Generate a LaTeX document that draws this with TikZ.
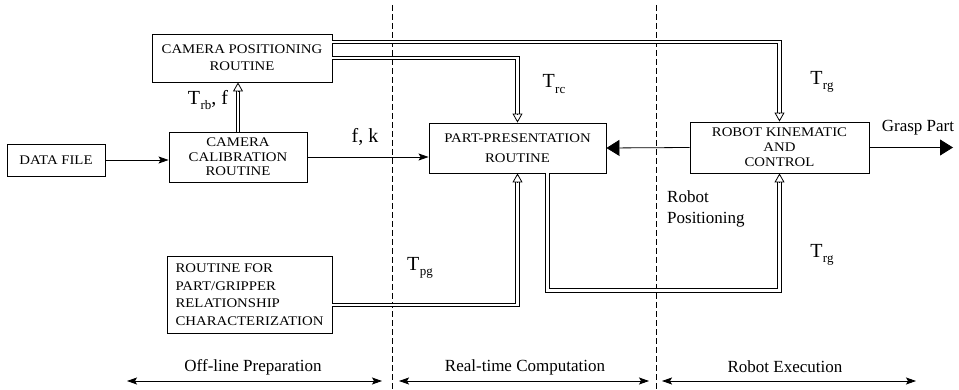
\documentclass[tikz,border=0pt]{standalone}
\usepackage{fontspec}
\setmainfont{Liberation Serif}
\newfontfamily\bxfont{Liberation Serif}[FakeStretch=1.12]
\usetikzlibrary{arrows.meta}
\newcommand\Tsub[1]{T\kern0.3pt\raisebox{-5.5pt}{\fontsize{13}{13}\selectfont #1}}
\begin{document}
\begin{tikzpicture}[x=1pt,y=-1pt,
  box/.style={draw, line width=0.9pt, inner sep=0pt, align=center},
  bt/.style={font=\bxfont\fontsize{13.2}{#1}\selectfont},
  dbl/.style={double, double distance=2.8pt, line width=0.8pt},
  oarr/.style={line width=0.8pt, -{Triangle[open,length=9pt,width=10pt]}},
  narr/.style={line width=0.8pt, -{Stealth[length=10pt,width=7pt,inset=2pt]}},
  farr/.style={line width=0.8pt, -{Triangle[length=13pt,width=16pt]}},
  span/.style={line width=0.8pt, {Stealth[length=10pt,width=7pt,inset=2pt]}-{Stealth[length=10pt,width=7pt,inset=2pt]}},
  lbl/.style={font=\fontsize{20}{20}\selectfont, inner sep=0pt},
  tl/.style={font=\fontsize{17}{21}\selectfont, inner sep=0pt},
  sep/.style={dashed, dash pattern=on 6pt off 3pt, line width=0.8pt}]
\useasboundingbox (0,0) rectangle (959,390);

% separators
\coordinate (s1t) at (392,5);
\coordinate (s1b) at (392,390);
\coordinate (s2t) at (656,5);
\coordinate (s2b) at (656,390);
\draw[sep] (s1t) -- (s1b);
\draw[sep] (s2t) -- (s2b);

% boxes
\node[box, bt=14, minimum width=98, minimum height=32] (data) at (56,160) {DATA FILE};
\node[box, bt=14.5, minimum width=138, minimum height=50] (calib) at (238,157) {CAMERA\\CALIBRATION\\ROUTINE};
\node[box, bt=16.7, minimum width=180, minimum height=48] (cpos) at (242,58) {CAMERA POSITIONING\\ROUTINE};
\node[box, bt=20, minimum width=177, minimum height=50] (part) at (517.5,148) {PART-PRESENTATION\\ROUTINE};
\node[box, bt=15, minimum width=179, minimum height=51] (robot) at (779.5,147.5) {ROBOT KINEMATIC\\AND\\CONTROL};
\node[box, bt=17.6, align=left, minimum width=165, minimum height=77] (rout) at (249.5,294.5) {ROUTINE FOR\\PART/GRIPPER\\RELATIONSHIP\\CHARACTERIZATION};

% single arrows
\draw[narr] (data.east) -- (data.east -| calib.west);
\draw[narr] (calib.east) -- (calib.east -| part.west);
\draw[farr] (robot.west) -- (part.east);
\coordinate (gp) at (953,147.5);
\draw[farr] (robot.east) -- (gp);

% double connectors
\coordinate (a5) at ([yshift=-9pt]cpos.south);
\draw[dbl] (calib.north) -- (calib.north |- a5);
\draw[oarr] (calib.north |- a5) -- (calib.north |- cpos.south);

\coordinate (a1) at ([yshift=9pt]part.north);
\draw[dbl] (cpos.east) -| (a1);
\draw[oarr] (a1) -- (part.north);

\coordinate (a2) at ([yshift=9pt]robot.north);
\draw[dbl] ([yshift=16pt]cpos.east) -| (a2);
\draw[oarr] (a2) -- (robot.north);

\coordinate (a3) at ([yshift=-9pt]part.south);
\draw[dbl] ([yshift=-10.5pt]rout.east) -| (a3);
\draw[oarr] (a3) -- (part.south);

\coordinate (a4) at ([yshift=-9pt]robot.south);
\coordinate (pb) at ([xshift=30pt]part.south);
\draw[dbl] (pb) -- ++(0,117) -| (a4);
\draw[oarr] (a4) -- (robot.south);

% labels
\node[lbl] (ltrb) at (208,100) {\Tsub{rb}, f};
\node[lbl] (lfk) at (365,137) {f, k};
\node[lbl] (ltrc) at (554,84) {\Tsub{rc}};
\node[lbl] (ltrg1) at (822,82) {\Tsub{rg}};
\node[lbl] (ltpg) at (420,268) {\Tsub{pg}};
\node[lbl] (ltrg2) at (822,255) {\Tsub{rg}};
\node[tl, anchor=north west, align=left] (lrp) at (667,191) {Robot\\Positioning};
\node[tl] (lgp) at (918,128) {Grasp Part};

% bottom spans
\coordinate (o1) at (127,381); \coordinate (o2) at (382,381);
\coordinate (r1) at (399,381); \coordinate (r2) at (649,381);
\coordinate (e1) at (662,381); \coordinate (e2) at (916,381);
\draw[span] (o1) -- (o2);
\draw[span] (r1) -- (r2);
\draw[span] (e1) -- (e2);
\node[tl] (lo) at (253,367) {Off-line Preparation};
\node[tl] (lr) at (525,367) {Real-time Computation};
\node[tl] (le) at (785,367) {Robot Execution};
\end{tikzpicture}
\end{document}
